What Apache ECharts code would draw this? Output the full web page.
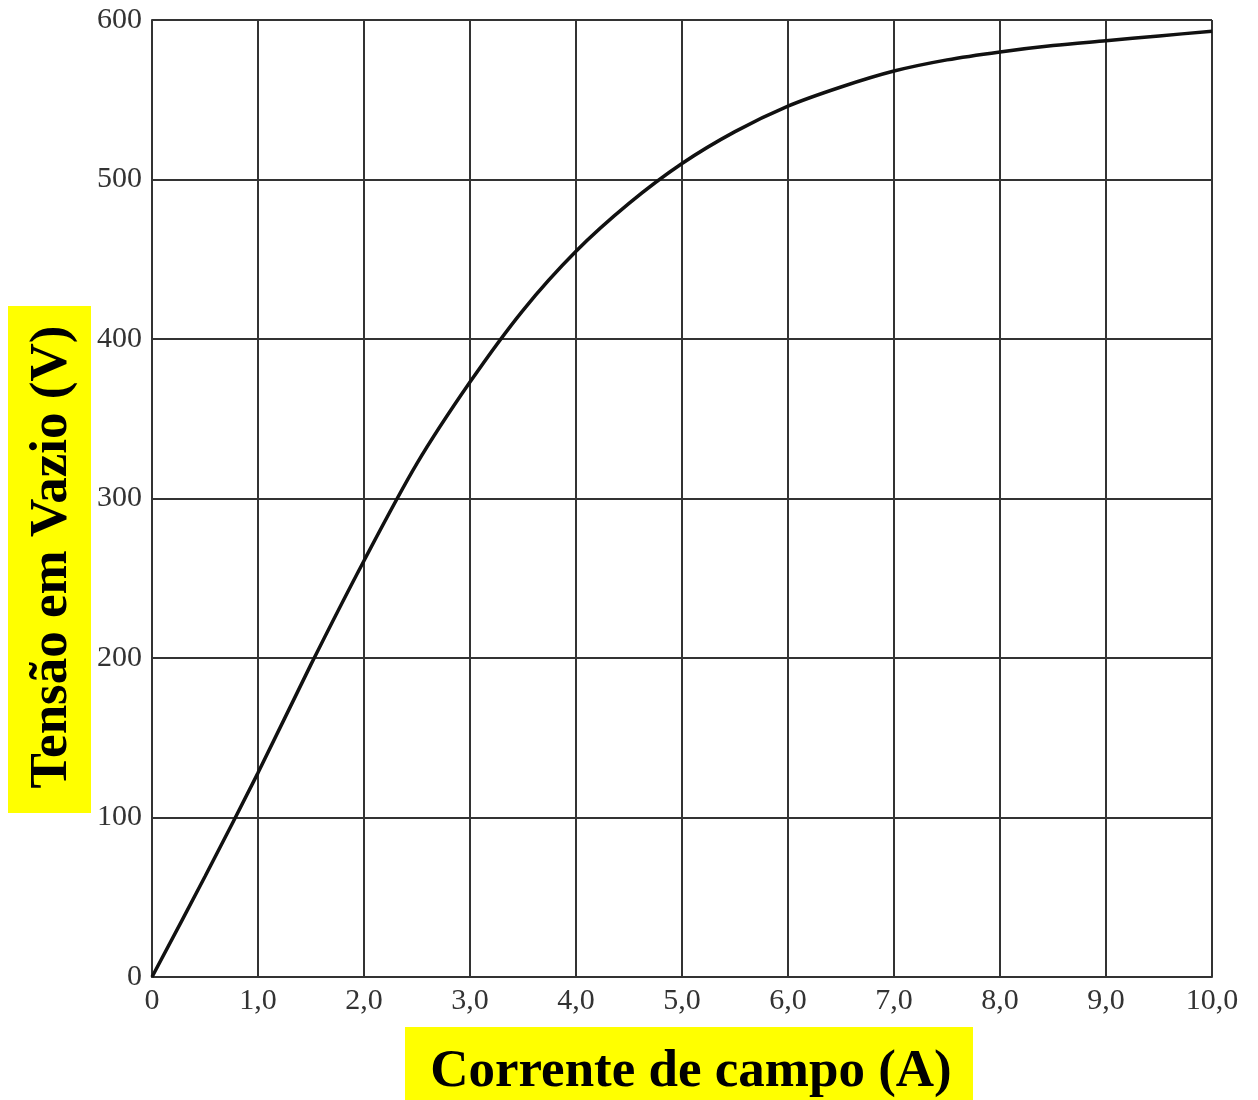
<!DOCTYPE html>
<html>
<head>
<meta charset="utf-8">
<script src="https://cdn.jsdelivr.net/npm/echarts@6/dist/echarts.min.js"></script>
<style>
  html, body { margin: 0; padding: 0; background: #fff; }
  #chart { width: 1258px; height: 1100px; }
</style>
</head>
<body>
<div id="chart"></div>
<script>
// corrente de campo (A)
var corrente = [0, 0.5, 1.0, 1.5, 2.0, 2.5, 3.0, 3.5, 4.0, 4.5, 5.0, 5.5, 6.0, 6.5, 7.0, 7.5, 8.0, 8.5, 9.0, 9.5, 10.0];
// tensão em vazio (V)
var tensao = [0, 63, 128, 196, 261, 322, 373, 418, 455, 485, 510, 530, 546, 558, 568, 575, 580, 584, 587, 590, 593];

var xTitle = "Corrente de campo (A)";
var yTitle = "Tensão em Vazio (V)";

var pontos = corrente.map(function (x, i) { return [x, tensao[i]]; });

var chart = echarts.init(document.getElementById("chart"));
var serif = "'Liberation Serif', 'DejaVu Serif', serif";

var option = {
  backgroundColor: "#fff",
  animation: false,
  grid: { left: 152, top: 20, right: 46, bottom: 123 },
  xAxis: {
    type: "value",
    min: 0,
    max: 10,
    interval: 1,
    axisLine: { lineStyle: { color: "#333", width: 2 } },
    axisTick: { show: false },
    axisLabel: {
      color: "#333",
      fontFamily: serif,
      fontSize: 30,
      margin: 9,
      formatter: function (v) {
        return v === 0 ? "0" : v.toFixed(1).replace(".", ",");
      }
    },
    splitLine: { show: true, lineStyle: { color: "#333", width: 2 } }
  },
  yAxis: {
    type: "value",
    min: 0,
    max: 600,
    interval: 100,
    axisLine: { lineStyle: { color: "#333", width: 2 } },
    axisTick: { show: false },
    axisLabel: {
      color: "#333",
      fontFamily: serif,
      fontSize: 30,
      margin: 10
    },
    splitLine: { show: true, lineStyle: { color: "#333", width: 2 } }
  },
  graphic: [
    { type: "rect", shape: { x: 8, y: 306, width: 83, height: 507 }, style: { fill: "#ffff00" }, z: 10 },
    {
      type: "text", x: 52, y: 557, rotation: Math.PI / 2,
      style: { text: yTitle, font: "bold 53px " + serif, fill: "#000", align: "center", verticalAlign: "middle" },
      z: 11
    },
    { type: "rect", shape: { x: 405, y: 1027, width: 568, height: 73 }, style: { fill: "#ffff00" }, z: 10 },
    {
      type: "text", x: 691, y: 1072,
      style: { text: xTitle, font: "bold 53px " + serif, fill: "#000", align: "center", verticalAlign: "middle" },
      z: 11
    }
  ],
  series: [
    {
      type: "line",
      data: pontos,
      smooth: 0.3,
      showSymbol: false,
      lineStyle: { color: "#111", width: 3.5 },
      z: 5
    }
  ]
};
chart.setOption(option);
</script>
</body>
</html>
